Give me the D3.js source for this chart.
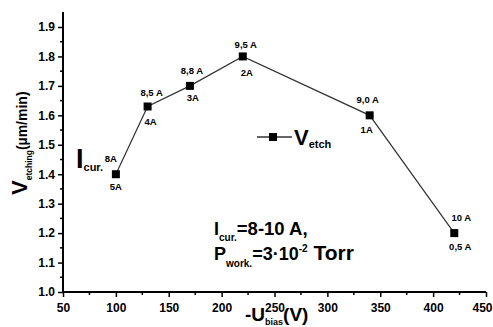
<!DOCTYPE html>
<html>
<head>
<meta charset="utf-8">
<script src="https://cdn.jsdelivr.net/npm/d3@7"></script>
<style>
  body { margin: 0; background: #fff; }
  svg { font-family: "Liberation Sans", Arial, sans-serif; font-weight: bold; }
</style>
</head>
<body>
<script>
// data
var biasV = [100, 130, 170, 220, 340, 420]
var etchRate = [1.40, 1.63, 1.70, 1.80, 1.60, 1.20]
var currentTop = ["8A", "8,5 A", "8,8 A", "9,5 A", "9,0 A", "10 A"]
var currentBottom = ["5A", "4A", "3A", "2A", "1A", "0,5 A"]
var xTicks = [50, 100, 150, 200, 250, 300, 350, 400, 450]
var yTicks = [1.0, 1.1, 1.2, 1.3, 1.4, 1.5, 1.6, 1.7, 1.8, 1.9]

// label nudges (pixels) relative to each point
var topOff = [[-5, -16], [4, -14], [2, -15], [3, -12], [-2, -16], [7, -15]]
var botOff = [[0, 12], [3, 15], [3, 12], [4, 16], [-3, 14], [6, 14]]

var W = 493, H = 327

var svg = d3.select("body").append("svg")
  .attr("width", W).attr("height", H)

var x = d3.scaleLinear().domain([50, 450]).range([63, 486])
var y = d3.scaleLinear().domain([1.0, 1.9]).range([292, 27])

// minor ticks
var xMinor = d3.range(75, 450, 50)
var yMinor = d3.range(1.05, 1.95, 0.1)

var xAxis = svg.append("g").attr("transform", "translate(0," + y(1.0) + ")")
xAxis.call(d3.axisBottom(x).tickValues(xTicks).tickSize(5).tickSizeOuter(0)
  .tickFormat(d3.format("d")))
xAxis.selectAll("line.minor").data(xMinor).enter().append("line")
  .attr("class", "minor")
  .attr("x1", function(d) { return x(d) }).attr("x2", function(d) { return x(d) })
  .attr("y1", 0).attr("y2", 3).attr("stroke", "#000").attr("stroke-width", 1.5)

var yAxis = svg.append("g").attr("transform", "translate(" + x(50) + ",0)")
yAxis.call(d3.axisLeft(y).tickValues(yTicks).tickSize(5).tickSizeOuter(0)
  .tickFormat(d3.format(".1f")))
yAxis.selectAll("line.minor").data(yMinor).enter().append("line")
  .attr("class", "minor")
  .attr("x1", -3).attr("x2", 0)
  .attr("y1", function(d) { return y(d) }).attr("y2", function(d) { return y(d) })
  .attr("stroke", "#000").attr("stroke-width", 1.5)

// y axis runs a bit past 1.9
yAxis.select(".domain").attr("d", "M0," + y(1.0) + "V" + (y(1.9) - 15))
xAxis.select(".domain").attr("d", "M" + x(50) + ",0H" + x(450))

svg.selectAll(".domain").attr("stroke", "#000").attr("stroke-width", 2)
svg.selectAll(".tick line").attr("stroke", "#000").attr("stroke-width", 1.5)
svg.selectAll(".tick text").attr("font-size", "12px").attr("font-weight", "bold")
  .attr("fill", "#000").attr("font-family", "Liberation Sans, Arial, sans-serif")
xAxis.selectAll(".tick text").attr("dy", "1.0em")
// last label sits at the window edge
xAxis.selectAll(".tick text").filter(function(d) { return d === 450 }).attr("dx", -4)

// data line
var pts = biasV.map(function(v, i) { return [v, etchRate[i]] })
svg.append("path")
  .datum(pts)
  .attr("fill", "none").attr("stroke", "#333").attr("stroke-width", 1.2)
  .attr("d", d3.line().x(function(d) { return x(d[0]) }).y(function(d) { return y(d[1]) }))

svg.selectAll("rect.pt").data(pts).enter().append("rect")
  .attr("class", "pt")
  .attr("x", function(d) { return x(d[0]) - 4 })
  .attr("y", function(d) { return y(d[1]) - 4 })
  .attr("width", 8).attr("height", 8).attr("fill", "#000")

// current labels
svg.selectAll("text.top").data(pts).enter().append("text")
  .attr("class", "top")
  .attr("x", function(d, i) { return x(d[0]) + topOff[i][0] })
  .attr("y", function(d, i) { return y(d[1]) + topOff[i][1] })
  .attr("dy", "0.35em").attr("text-anchor", "middle").attr("font-size", "9.5px")
  .text(function(d, i) { return currentTop[i] })

svg.selectAll("text.bot").data(pts).enter().append("text")
  .attr("class", "bot")
  .attr("x", function(d, i) { return x(d[0]) + botOff[i][0] })
  .attr("y", function(d, i) { return y(d[1]) + botOff[i][1] })
  .attr("dy", "0.35em").attr("text-anchor", "middle").attr("font-size", "9.5px")
  .text(function(d, i) { return currentBottom[i] })

// I_cur. label on the left
var ic = svg.append("text").attr("x", 76).attr("y", 168)
ic.append("tspan").attr("font-size", "27px").text("I")
ic.append("tspan").attr("font-size", "11px").attr("dy", 3).text("cur.")

// legend
svg.append("line").attr("x1", 257).attr("x2", 292).attr("y1", 137).attr("y2", 137)
  .attr("stroke", "#333").attr("stroke-width", 1.5)
svg.append("rect").attr("x", 269).attr("y", 133).attr("width", 8).attr("height", 8).attr("fill", "#000")
var lg = svg.append("text").attr("x", 294).attr("y", 145)
lg.append("tspan").attr("font-size", "22px").text("V")
lg.append("tspan").attr("font-size", "11px").attr("dy", 3).text("etch")

// conditions
var c1 = svg.append("text").attr("x", 214).attr("y", 235)
c1.append("tspan").attr("font-size", "18px").text("I")
c1.append("tspan").attr("font-size", "10px").attr("dy", 6).text("cur.")
c1.append("tspan").attr("font-size", "18.5px").attr("dy", -6).text("=8-10 A,")

var c2 = svg.append("text").attr("x", 214).attr("y", 260)
c2.append("tspan").attr("font-size", "18px").text("P")
c2.append("tspan").attr("font-size", "10px").attr("dy", 7).text("work.")
c2.append("tspan").attr("font-size", "18px").attr("dy", -7).text("=3\u00b710")
c2.append("tspan").attr("font-size", "10px").attr("dy", -8).text("-2")
c2.append("tspan").attr("font-size", "21px").attr("dy", 8).text(" Torr")

// axis titles
var xt = svg.append("text").attr("x", 245).attr("y", 321)
xt.append("tspan").attr("font-size", "19px").text("-U")
xt.append("tspan").attr("font-size", "9px").attr("dy", 4).text("bias")
xt.append("tspan").attr("font-size", "19px").attr("dy", -4).text("(V)")

var yt = svg.append("text").attr("transform", "translate(27,195) rotate(-90)")
yt.append("tspan").attr("font-size", "22px").text("V")
yt.append("tspan").attr("font-size", "8.5px").attr("dy", 5).text("etching")
yt.append("tspan").attr("font-size", "14px").attr("dy", -5).text("(\u00b5m/min)")
</script>
</body>
</html>
